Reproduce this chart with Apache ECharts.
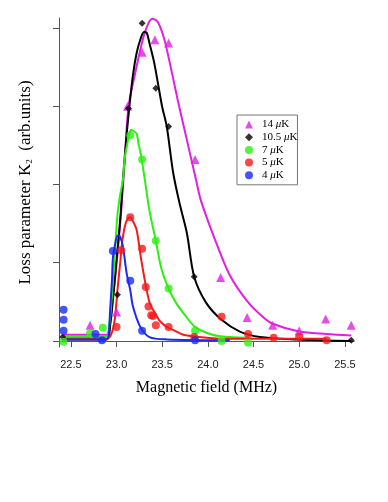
<!DOCTYPE html>
<html>
<head>
<meta charset="utf-8">
<title>Loss parameter K2</title>
<style>
  html, body { margin: 0; padding: 0; background: #fff; }
  #myChart { width: 388px; height: 502px; }
</style>
<script src="https://cdn.jsdelivr.net/npm/echarts@6/dist/echarts.min.js"></script>
</head>
<body>
<div id="myChart"></div>
<script>
  // 刻度 (ticks)
  var xTicks = [22.5, 23.0, 23.5, 24.0, 24.5, 25.0, 25.5]
  var yTicks = [0, 1, 2, 3, 4]

  // legend names
  var names = ['14 μK', '10.5 μK', '7 μK', '5 μK', '4 μK']
  var colors = ['#e21fe2', '#000000', '#2cf010', '#f51a1a', '#1a2af2']
  var symbols = ['triangle', 'diamond', 'circle', 'circle', 'circle']

  // measured points  [field MHz, K2]
  var pts14 = [[22.71, 0.2], [23.0, 0.37], [23.12, 3.0], [23.28, 3.69], [23.42, 3.85], [23.57, 3.81],
    [23.86, 2.32], [24.14, 0.81], [24.43, 0.3], [24.71, 0.2], [25.0, 0.13], [25.29, 0.28], [25.57, 0.2]]
  var pts105 = [[22.41, 0.05], [23.01, 0.59], [23.13, 2.97], [23.28, 4.06], [23.43, 3.23], [23.57, 2.74],
    [23.85, 0.82], [25.57, 0.01]]
  var pts7 = [[22.42, -0.01], [22.71, 0.1], [22.85, 0.17], [23.15, 2.63], [23.28, 2.32], [23.43, 1.28],
    [23.57, 0.67], [23.86, 0.13], [24.15, 0.0], [24.44, -0.02]]
  var pts5 = [[23.0, 0.18], [23.05, 1.16], [23.15, 1.58], [23.28, 1.18], [23.32, 0.69], [23.35, 0.44],
    [23.38, 0.33], [23.4, 0.32], [23.43, 0.2], [23.57, 0.18], [23.85, 0.05], [24.15, 0.31], [24.44, 0.09],
    [24.72, 0.04], [25.0, 0.05], [25.3, 0.01]]
  var pts4 = [[22.42, 0.4], [22.42, 0.27], [22.42, 0.13], [22.77, 0.09], [22.84, 0.01], [22.96, 1.15],
    [23.15, 0.77], [23.28, 0.13], [23.86, 0.01]]

  // fitted curves
  var fit14 = [[22.41, 0.08], [22.89, 0.08], [22.93, 0.27], [22.97, 0.65], [23.01, 1.1], [23.05, 1.65],
    [23.09, 2.3], [23.13, 2.99], [23.2, 3.4], [23.26, 3.72], [23.32, 3.98], [23.39, 4.12], [23.45, 4.08],
    [23.52, 3.87], [23.58, 3.57], [23.67, 3.08], [23.77, 2.57], [23.87, 2.06], [23.92, 1.81], [23.99, 1.57],
    [24.08, 1.29], [24.24, 0.84], [24.43, 0.51], [24.6, 0.31], [24.71, 0.22], [25.0, 0.12], [25.3, 0.09],
    [25.57, 0.07]]
  var fit105 = [[22.41, 0.02], [22.89, 0.02], [22.93, 0.2], [22.96, 0.52], [23.0, 1.04], [23.04, 1.55],
    [23.07, 2.06], [23.1, 2.5], [23.14, 2.99], [23.18, 3.4], [23.22, 3.68], [23.26, 3.85], [23.3, 3.95],
    [23.33, 3.94], [23.36, 3.81], [23.41, 3.57], [23.46, 3.25], [23.5, 2.99], [23.55, 2.74], [23.62, 2.15],
    [23.69, 1.76], [23.77, 1.38], [23.85, 0.82], [23.98, 0.49], [24.15, 0.27], [24.35, 0.12], [24.57, 0.05],
    [24.97, 0.02], [25.57, 0.0]]
  var fit7 = [[22.41, 0.05], [22.88, 0.05], [22.92, 0.2], [22.95, 0.59], [22.98, 1.1], [23.01, 1.61],
    [23.04, 1.87], [23.07, 2.06], [23.09, 2.34], [23.12, 2.53], [23.14, 2.65], [23.16, 2.7], [23.19, 2.68],
    [23.22, 2.65], [23.24, 2.53], [23.27, 2.36], [23.31, 2.06], [23.36, 1.67], [23.43, 1.28], [23.49, 0.93],
    [23.57, 0.67], [23.65, 0.49], [23.73, 0.36], [23.86, 0.18], [24.05, 0.08], [24.24, 0.05], [24.46, 0.04]]
  var fit5 = [[22.41, 0.03], [22.89, 0.03], [22.94, 0.08], [22.98, 0.27], [23.01, 0.65], [23.04, 1.0],
    [23.06, 1.25], [23.09, 1.46], [23.12, 1.56], [23.15, 1.58], [23.18, 1.53], [23.22, 1.42], [23.27, 1.04],
    [23.33, 0.65], [23.37, 0.46], [23.42, 0.36], [23.47, 0.26], [23.55, 0.18], [23.64, 0.13], [23.73, 0.08],
    [23.91, 0.05], [24.13, 0.03], [24.57, 0.03], [25.3, 0.03]]
  var fit4 = [[22.41, 0.02], [22.88, 0.02], [22.91, 0.05], [22.93, 0.4], [22.95, 0.78], [22.96, 1.06],
    [22.98, 1.21], [23.0, 1.32], [23.02, 1.35], [23.04, 1.33], [23.07, 1.21], [23.11, 0.87], [23.15, 0.65],
    [23.18, 0.44], [23.26, 0.18], [23.36, 0.05], [23.55, 0.02], [24.24, 0.01]]

  var pts = [pts14, pts105, pts7, pts5, pts4]
  var fits = [fit14, fit105, fit7, fit5, fit4]
  var sizes = [9, 7, 8, 8, 8]

  var serif = '"Liberation Serif", "DejaVu Serif", serif'
  var sans = '"Liberation Sans", Arial, sans-serif'

  var series = []
  // curves first so the markers sit on top
  fits.forEach(function (d, i) {
    series.push({
      name: names[i] + ' fit',
      type: 'line',
      data: d,
      smooth: 0.3,
      showSymbol: false,
      lineStyle: { color: colors[i], width: 2 },
      z: 2
    })
  })
  pts.forEach(function (d, i) {
    series.push({
      name: names[i],
      type: 'scatter',
      data: d,
      symbol: symbols[i],
      symbolSize: sizes[i],
      itemStyle: { color: colors[i] },
      z: 3
    })
  })

  var myChart = echarts.init(document.getElementById('myChart'))
  myChart.setOption({
    animation: false,
    backgroundColor: '#fff',
    grid: { left: 59, top: 18, right: 34, bottom: 155, containLabel: false },
    legend: {
      orient: 'vertical',
      left: 237,
      top: 115,
      padding: [4, 0, 4, 8],
      itemWidth: 8,
      itemHeight: 8,
      itemGap: 1.7,
      borderColor: '#777',
      borderWidth: 1,
      data: names.map(function (n, i) { return { name: n, icon: symbols[i] } }),
      formatter: function (n) { return n.replace('μ', '{i|μ}') },
      textStyle: {
        fontFamily: serif, fontSize: 11, color: '#000', padding: [0, 0, 0, 4],
        rich: { i: { fontFamily: serif, fontSize: 11, fontStyle: 'italic', color: '#000' } }
      }
    },
    xAxis: {
      type: 'value',
      min: 22.37,
      max: 25.6,
      name: 'Magnetic field (MHz)',
      nameLocation: 'middle',
      nameGap: 33,
      nameTextStyle: { fontFamily: serif, fontSize: 16, color: '#000' },
      axisLine: { lineStyle: { color: '#555', width: 1 } },
      axisTick: { customValues: xTicks, length: 6, lineStyle: { color: '#555' } },
      axisLabel: {
        customValues: xTicks, margin: 12, fontFamily: sans, fontSize: 11, color: '#222',
        formatter: function (v) { return v.toFixed(1) }
      },
      splitLine: { show: false }
    },
    yAxis: {
      type: 'value',
      min: -0.077,
      max: 4.128,
      name: 'Loss parameter K{sub|2}  (arb.units)',
      nameLocation: 'middle',
      nameGap: 25,
      nameTextStyle: {
        fontFamily: serif, fontSize: 17, color: '#000',
        rich: { sub: { fontFamily: serif, fontSize: 9, color: '#000', padding: [8, 0, 0, 0] } }
      },
      axisLine: { show: true, lineStyle: { color: '#555', width: 1 } },
      axisTick: { show: true, customValues: yTicks, length: 6, lineStyle: { color: '#555' } },
      axisLabel: { show: false },
      splitLine: { show: false }
    },
    series: series
  })
</script>
</body>
</html>
